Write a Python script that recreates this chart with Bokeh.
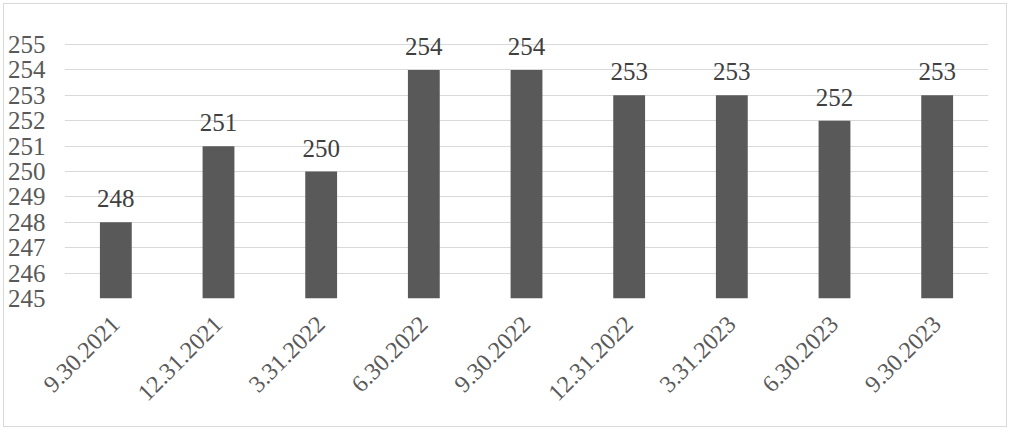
import math
from bokeh.plotting import figure
from bokeh.models import ColumnDataSource, LabelSet, Range1d, FactorRange
from bokeh.embed import file_html
from bokeh.resources import INLINE

categories = ["9.30.2021", "12.31.2021", "3.31.2022", "6.30.2022", "9.30.2022",
              "12.31.2022", "3.31.2023", "6.30.2023", "9.30.2023"]
values = [248, 251, 250, 254, 254, 253, 253, 252, 253]
y_ticks = list(range(245, 256))

src = ColumnDataSource(dict(cat=categories, val=values, lbl=[str(v) for v in values]))

p = figure(width=1004, height=424, x_range=FactorRange(*categories),
           y_range=Range1d(245, 256.42), output_backend="svg", toolbar_location=None,
           min_border_left=55, min_border_right=20, min_border_top=4, min_border_bottom=130)

p.vbar(x="cat", top="val", bottom=245, width=0.31, source=src,
       fill_color="#595959", line_color=None)

labels = LabelSet(x="cat", y="val", text="lbl", source=src, y_offset=15,
                  text_align="center", text_baseline="alphabetic",
                  text_font="Liberation Serif", text_font_size="25px", text_color="#404040")
p.add_layout(labels)

p.yaxis.ticker = y_ticks
p.yaxis.axis_line_color = None
p.yaxis.major_tick_line_color = None
p.yaxis.minor_tick_line_color = None
p.yaxis.major_label_text_font = "Liberation Serif"
p.yaxis.major_label_text_font_size = "25px"
p.yaxis.major_label_text_color = "#595959"
p.yaxis.major_label_standoff = 13

p.xaxis.axis_line_color = None
p.xaxis.major_tick_line_color = None
p.xaxis.major_label_orientation = math.pi / 4
p.xaxis.major_label_text_font = "Liberation Serif"
p.xaxis.major_label_text_font_size = "24px"
p.xaxis.major_label_text_color = "#595959"
p.xaxis.major_label_standoff = 16

p.xgrid.grid_line_color = None
p.ygrid.grid_line_color = "#d9d9d9"
p.ygrid.grid_line_width = 1

p.outline_line_color = None
p.border_fill_color = "white"
p.background_fill_color = "white"

p.styles = {"border": "1px solid #d9d9d9", "margin": "3px 0 0 3px"}

open("out.html", "w").write(file_html(p, INLINE))
